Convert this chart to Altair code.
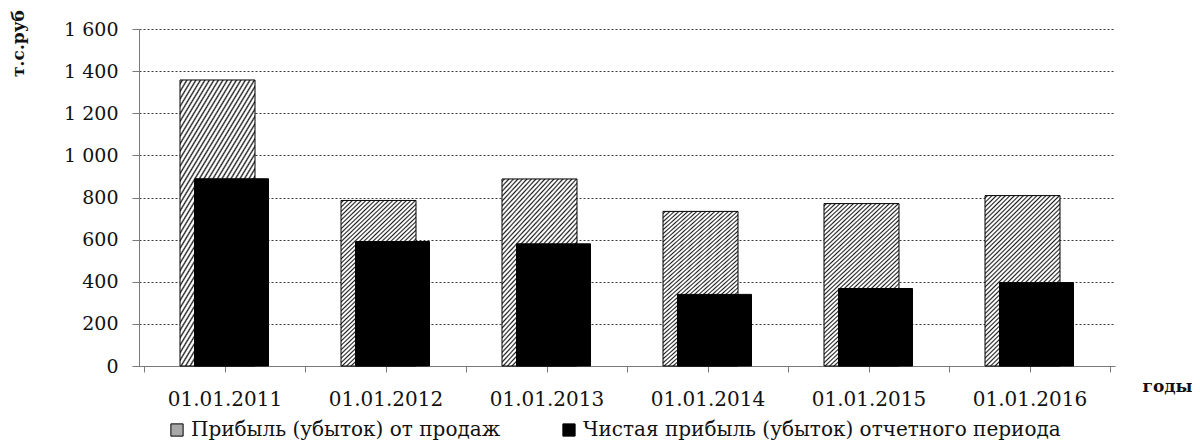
import json
import altair as alt
import pandas as pd

# ---- data ----
dates = ["01.01.2011", "01.01.2012", "01.01.2013", "01.01.2014", "01.01.2015", "01.01.2016"]
sales_profit = [1358, 786, 888, 734, 771, 809]
net_profit = [889, 591, 580, 340, 368, 396]
series_names = ["Прибыль (убыток) от продаж", "Чистая прибыль (убыток) отчетного периода"]
y_ticks = [0, 200, 400, 600, 800, 1000, 1200, 1400, 1600]

rows = []
for i, d in enumerate(dates):
    rows.append({"date": d, "idx": i + 0.5, "series": series_names[0], "value": sales_profit[i]})
    rows.append({"date": d, "idx": i + 0.5, "series": series_names[1], "value": net_profit[i]})
df = pd.DataFrame(rows)

# ---- hatch pattern approximated with a soft-edged striped linear gradient ----
n_stripes = 55
dt = 1.0 / n_stripes
stops = []
for k in range(n_stripes):
    s = k * dt
    stops += [
        {"offset": round(s, 5), "color": "#ffffff"},
        {"offset": round(s + 0.2 * dt, 5), "color": "#ffffff"},
        {"offset": round(s + 0.55 * dt, 5), "color": "#1e1e1e"},
        {"offset": round(s + 0.9 * dt, 5), "color": "#ffffff"},
        {"offset": round(s + dt, 5), "color": "#ffffff"},
    ]
hatch = {"gradient": "linear", "x1": 0, "y1": 0, "x2": 0.525, "y2": 1.207, "stops": stops}

FONT = "DejaVu Serif"
label_expr = "datum.value % 1 == 0.5 ? " + json.dumps(dates) + "[floor(datum.value)] : ''"

x_enc = alt.X(
    "idx:Q",
    scale=alt.Scale(domain=[0, 6], nice=False, zero=False),
    axis=alt.Axis(
        values=[i * 0.5 for i in range(13)],
        labelExpr=label_expr,
        grid=False,
        domainColor="#7a7a7a",
        tickColor="#7a7a7a",
        tickSize=6,
        labelFont=FONT,
        labelFontSize=20,
        labelColor="#111111",
        labelPadding=17,
        labelFlush=False,
        labelOverlap=False,
        title="годы",
        titleFont=FONT,
        titleFontSize=17,
        titleFontWeight="bold",
        titleColor="#111111",
        titleX=1003,
        titleY=20,
        titleAlign="left",
        titleBaseline="middle",
    ),
)
y_enc = alt.Y(
    "value:Q",
    scale=alt.Scale(domain=[0, 1600], nice=False),
    axis=alt.Axis(
        values=y_ticks,
        labelExpr="replace(format(datum.value, ','), ',', ' ')",
        grid=True,
        gridColor="#3a3a3a",
        gridDash=[2, 2],
        gridWidth=1,
        domainColor="#7a7a7a",
        tickColor="#7a7a7a",
        tickSize=7,
        labelFont=FONT,
        labelFontSize=19,
        labelColor="#111111",
        labelPadding=14,
        title="т.с.руб",
        titleFont=FONT,
        titleFontSize=17,
        titleFontWeight="bold",
        titleColor="#111111",
        titleX=-121,
        titleY=14,
        titleAngle=270,
        titleAlign="center",
        titleBaseline="middle",
    ),
)

fill_enc = alt.condition(
    f"datum.series == '{series_names[0]}'",
    alt.value(hatch),
    alt.Fill(
        "series:N",
        scale=alt.Scale(domain=series_names, range=["#a8a8a8", "#000000"]),
        legend=alt.Legend(
            title=None,
            orient="none",
            legendX=28,
            legendY=391,
            direction="horizontal",
            symbolType="square",
            symbolSize=150,
            symbolStrokeColor="#000000",
            symbolStrokeWidth=1,
            labelFont=FONT,
            labelFontSize=20,
            labelColor="#111111",
            labelLimit=0,
            columnPadding=58,
        ),
    ),
)

base = alt.Chart(df).encode(x=x_enc, y=y_enc, fill=fill_enc)

bars_a = base.transform_filter(alt.datum.series == series_names[0]).mark_bar(
    width=75, xOffset=-7, stroke="#000000", strokeWidth=1
)
bars_b = base.transform_filter(alt.datum.series == series_names[1]).mark_bar(
    width=74, xOffset=7, stroke="#000000", strokeWidth=1
)

chart = (
    alt.layer(bars_a, bars_b)
    .properties(
        width=976,
        height=337,
        autosize=alt.AutoSizeParams(type="none"),
        padding={"left": 131, "top": 21, "right": 77, "bottom": 75},
        background="white",
    )
    .configure_view(stroke=None)
)

chart.save("out.html", embed_options={"renderer": "svg", "actions": False})
